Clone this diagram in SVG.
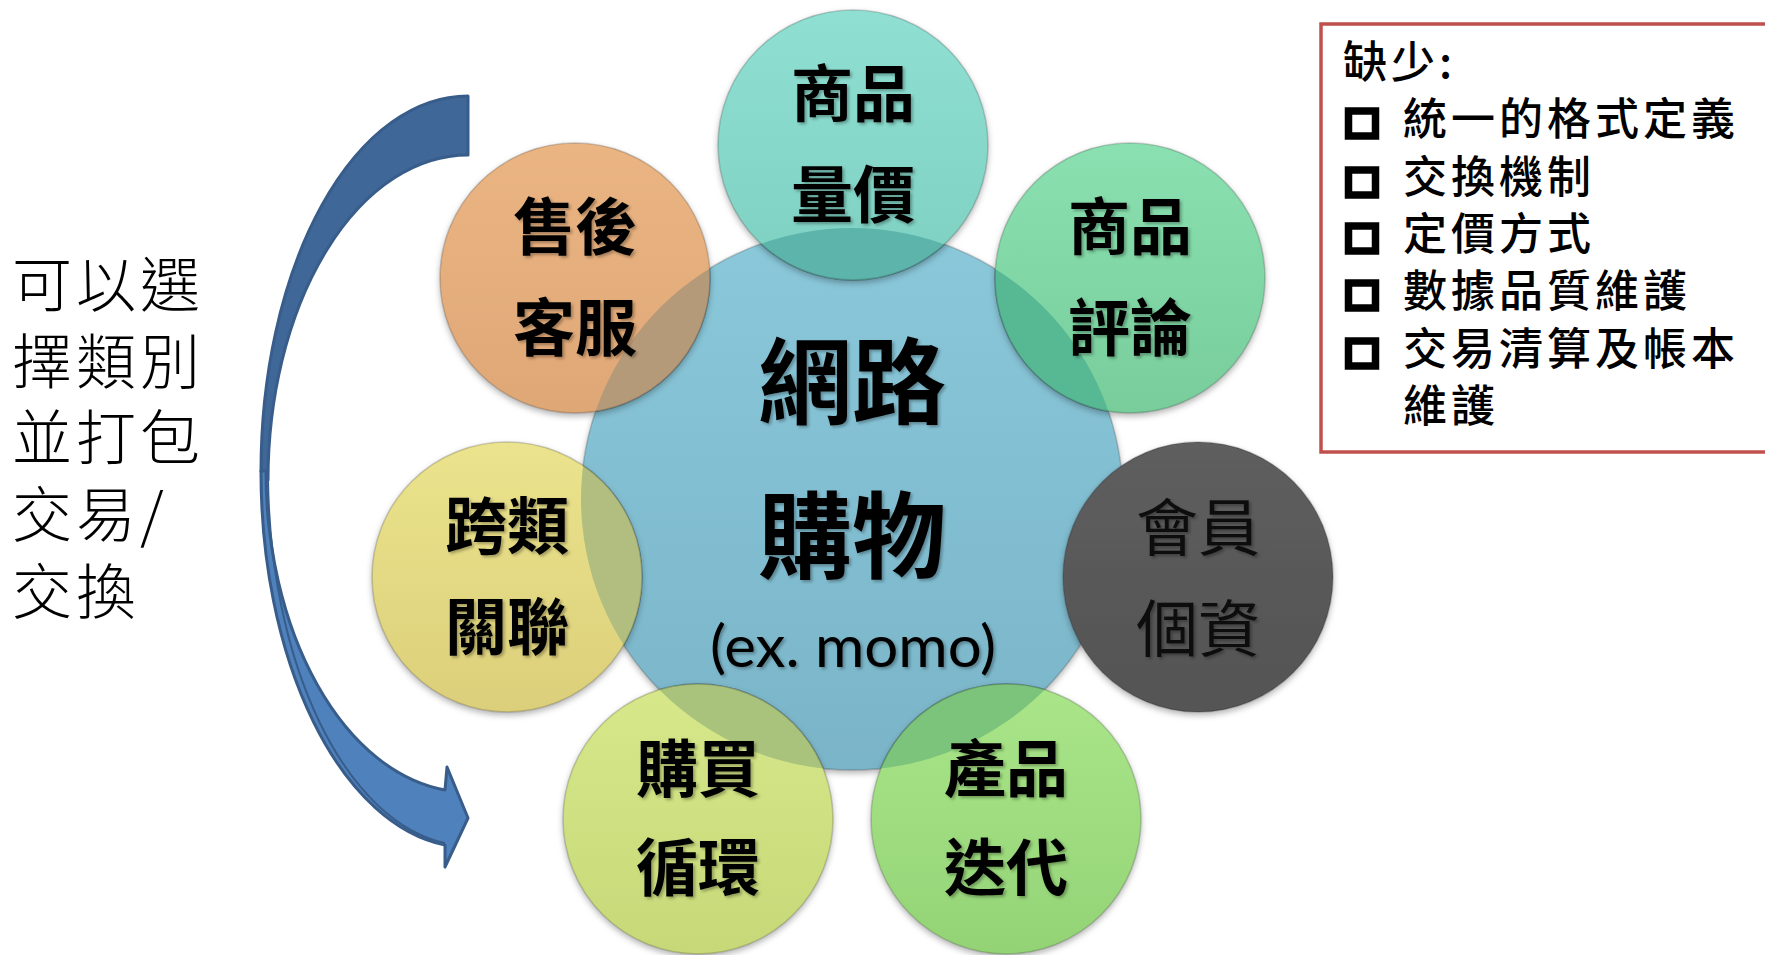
<svg xmlns="http://www.w3.org/2000/svg" width="1765" height="955" viewBox="0 0 1765 955">
<style>
.lbl{font-family:"Noto Sans CJK TC","Noto Sans CJK SC",sans-serif;font-weight:700;font-size:62px;fill:#000;text-anchor:middle}
.lblr{font-family:"Noto Sans CJK TC","Noto Sans CJK SC",sans-serif;font-weight:400;font-size:62px;fill:#111;text-anchor:middle}
.big{font-family:"Noto Sans CJK TC","Noto Sans CJK SC",sans-serif;font-weight:700;font-size:94px;fill:#000;text-anchor:middle}
.side{font-family:"Noto Sans CJK TC","Noto Sans CJK SC",sans-serif;font-weight:300;font-size:60px;letter-spacing:4px;fill:#000}
.box{font-family:"Noto Sans CJK TC","Noto Sans CJK SC",sans-serif;font-weight:500;font-size:44px;letter-spacing:4px;fill:#000}
.circ{stroke:rgba(0,0,0,0.18);stroke-width:1.5}
.bul{fill:none;stroke:#000;stroke-width:7.5}
</style>
<defs>
<filter id="sh" x="-20%" y="-20%" width="140%" height="150%">
<feDropShadow dx="0" dy="3" stdDeviation="3" flood-color="#000" flood-opacity="0.3"/>
</filter>
<filter id="tsh" x="-10%" y="-10%" width="130%" height="130%">
<feDropShadow dx="2" dy="2" stdDeviation="1.5" flood-color="#000" flood-opacity="0.3"/>
</filter>
<linearGradient id="gBlue" x1="0" y1="0" x2="0" y2="1"><stop offset="0" stop-color="#8ac8da"/><stop offset="1" stop-color="#7ab4c8"/></linearGradient>
<linearGradient id="gTeal" x1="0" y1="0" x2="0" y2="1"><stop offset="0" stop-color="#8fe0d3"/><stop offset="1" stop-color="#7ed0c1"/></linearGradient>
<linearGradient id="gGreen" x1="0" y1="0" x2="0" y2="1"><stop offset="0" stop-color="#8ae0b0"/><stop offset="1" stop-color="#78cd9b"/></linearGradient>
<linearGradient id="gOrange" x1="0" y1="0" x2="0" y2="1"><stop offset="0" stop-color="#ebb583"/><stop offset="1" stop-color="#dfa776"/></linearGradient>
<linearGradient id="gYellow" x1="0" y1="0" x2="0" y2="1"><stop offset="0" stop-color="#ebe38d"/><stop offset="1" stop-color="#dccf7a"/></linearGradient>
<linearGradient id="gGray" x1="0" y1="0" x2="0" y2="1"><stop offset="0" stop-color="#5e5e5e"/><stop offset="1" stop-color="#545454"/></linearGradient>
<linearGradient id="gLime" x1="0" y1="0" x2="0" y2="1"><stop offset="0" stop-color="#d6e88a"/><stop offset="1" stop-color="#c6d877"/></linearGradient>
<linearGradient id="gLeaf" x1="0" y1="0" x2="0" y2="1"><stop offset="0" stop-color="#aae689"/><stop offset="1" stop-color="#93d376"/></linearGradient>
<clipPath id="cc"><circle cx="852" cy="499" r="271"/></clipPath>
</defs>

<g id="connectors">
<path d="M468,96 A207,375 0 0 0 261,471 L268,480 A200,325 0 0 1 468,155 Z" fill="#3f6797" stroke="#385d8a" stroke-width="3" stroke-linejoin="round"/>
<path d="M261,471 A207,375 0 0 0 445,845 L445,867 L468,818 L447,767 L445,790 A202,321 0 0 1 266,471 Z" fill="#4f81bd" stroke="#385d8a" stroke-width="3" stroke-linejoin="round"/>
<path d="M268,478 A200,374 0 0 0 445,843" fill="none" stroke="#385d8a" stroke-width="2"/>
</g>

<g id="center">
<circle cx="852" cy="499" r="271" fill="url(#gBlue)" class="circ" filter="url(#sh)"/>
</g>

<g id="node-top">
<circle cx="853" cy="145" r="135" fill="url(#gTeal)" class="circ" filter="url(#sh)"/>
<circle cx="853" cy="145" r="135" fill="#5db4ab" clip-path="url(#cc)" class="circ"/>
</g>
<g id="node-topleft">
<circle cx="575" cy="278" r="135" fill="url(#gOrange)" class="circ" filter="url(#sh)"/>
<circle cx="575" cy="278" r="135" fill="#b59a7a" clip-path="url(#cc)" class="circ"/>
</g>
<g id="node-topright">
<circle cx="1130" cy="278" r="135" fill="url(#gGreen)" class="circ" filter="url(#sh)"/>
<circle cx="1130" cy="278" r="135" fill="#57b894" clip-path="url(#cc)" class="circ"/>
</g>
<g id="node-left">
<circle cx="507" cy="577" r="135" fill="url(#gYellow)" class="circ" filter="url(#sh)"/>
<circle cx="507" cy="577" r="135" fill="#b2be80" clip-path="url(#cc)" class="circ"/>
</g>
<g id="node-right">
<circle cx="1198" cy="577" r="135" fill="url(#gGray)" class="circ" filter="url(#sh)"/>
</g>
<g id="node-bottomleft">
<circle cx="698" cy="819" r="135" fill="url(#gLime)" class="circ" filter="url(#sh)"/>
<circle cx="698" cy="819" r="135" fill="#a9c27c" clip-path="url(#cc)" class="circ"/>
</g>
<g id="node-bottomright">
<circle cx="1006" cy="819" r="135" fill="url(#gLeaf)" class="circ" filter="url(#sh)"/>
<circle cx="1006" cy="819" r="135" fill="#7cc47b" clip-path="url(#cc)" class="circ"/>
</g>

<g id="labels" filter="url(#tsh)">
<text class="big" x="852" y="417">網路</text>
<text class="big" x="852" y="571">購物</text>
<text x="853" y="667" font-family="Lato, 'Open Sans', sans-serif" font-size="58" fill="#000" text-anchor="middle" textLength="286" lengthAdjust="spacingAndGlyphs">(ex. momo)</text>
<text class="lbl" x="853" y="117">商品</text>
<text class="lbl" x="853" y="218">量價</text>
<text class="lbl" x="575" y="250">售後</text>
<text class="lbl" x="575" y="351">客服</text>
<text class="lbl" x="1130" y="250">商品</text>
<text class="lbl" x="1130" y="351">評論</text>
<text class="lbl" x="507" y="549">跨類</text>
<text class="lbl" x="507" y="650">關聯</text>
<text class="lblr" x="1198" y="551">會員</text>
<text class="lblr" x="1198" y="652">個資</text>
<text class="lbl" x="698" y="792">購買</text>
<text class="lbl" x="698" y="891">循環</text>
<text class="lbl" x="1006" y="792">產品</text>
<text class="lbl" x="1006" y="891">迭代</text>
</g>

<g id="side-text">
<text class="side" x="12" y="307">可以選</text>
<text class="side" x="12" y="384">擇類別</text>
<text class="side" x="12" y="460">並打包</text>
<text class="side" x="12" y="537">交易/</text>
<text class="side" x="12" y="614">交換</text>
</g>

<g id="missing-box">
<rect x="1321" y="24" width="470" height="428" fill="#fff" stroke="#c0504d" stroke-width="3.5"/>
<text class="box" x="1343" y="78">缺少:</text>
<rect class="bul" x="1348.5" y="111" width="27" height="25"/>
<text class="box" x="1403" y="135">統一的格式定義</text>
<rect class="bul" x="1348.5" y="170" width="27" height="25"/>
<text class="box" x="1403" y="193">交換機制</text>
<rect class="bul" x="1348.5" y="226" width="27" height="25"/>
<text class="box" x="1403" y="250">定價方式</text>
<rect class="bul" x="1348.5" y="283" width="27" height="25"/>
<text class="box" x="1403" y="307">數據品質維護</text>
<rect class="bul" x="1348.5" y="341" width="27" height="25"/>
<text class="box" x="1403" y="365">交易清算及帳本</text>
<text class="box" x="1403" y="422">維護</text>
</g>
</svg>
